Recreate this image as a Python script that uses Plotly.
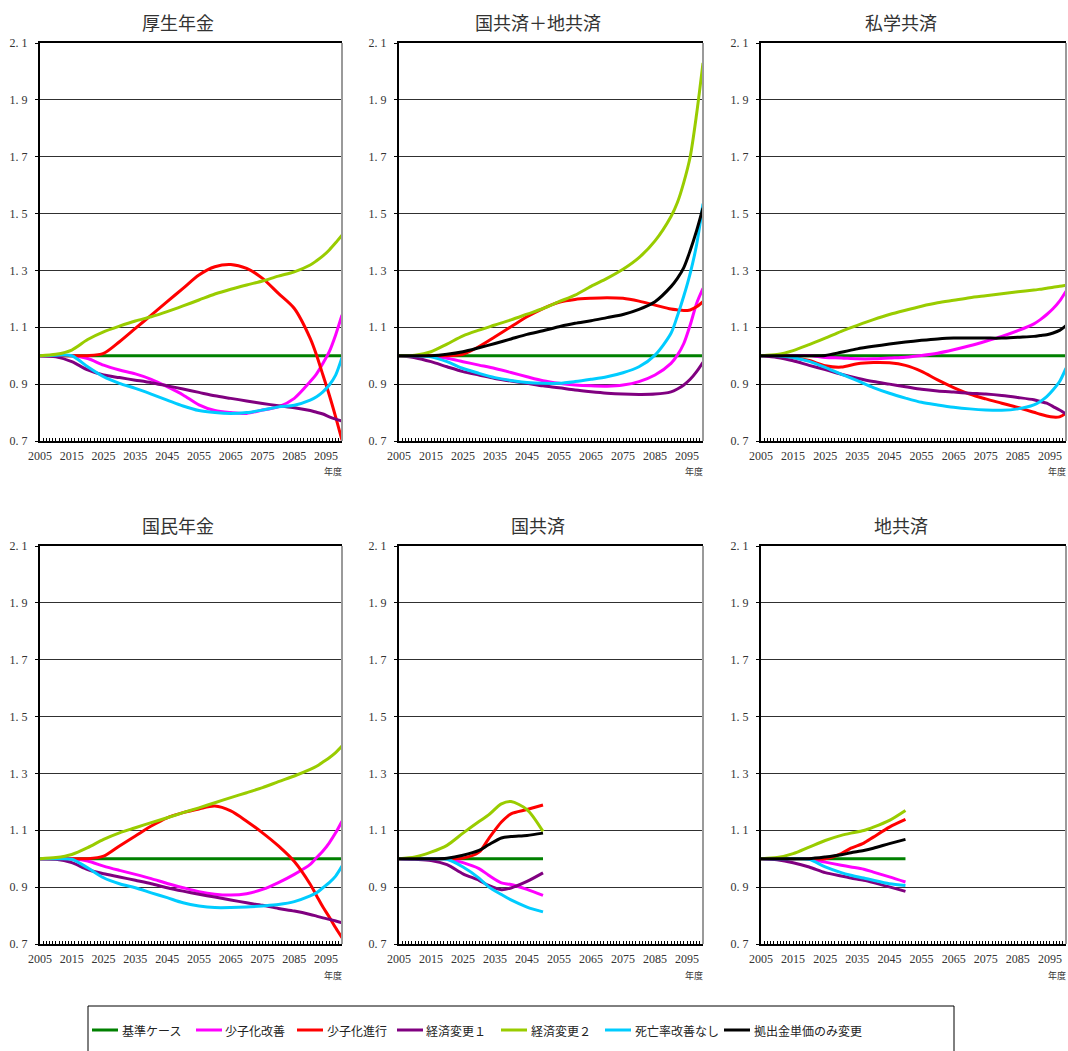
import plotly.graph_objects as go

W, H = 1068, 1051

# ---------------- data ----------------
YEARS_LONG = [2005, 2010, 2015, 2020, 2025, 2030, 2035, 2040, 2045, 2050, 2055, 2060,
              2065, 2070, 2075, 2080, 2085, 2090, 2092, 2094, 2096, 2098, 2100]
YEARS_SHORT = [2005, 2010, 2015, 2020, 2025, 2030, 2033, 2037, 2040, 2045, 2050]

SERIES_NAMES = ["基準ケース", "少子化改善", "少子化進行", "経済変更１",
                "経済変更２", "死亡率改善なし", "拠出金単価のみ変更"]
SERIES_COLORS = ["#008000", "#FF00FF", "#FF0000", "#800080",
                 "#99CC00", "#00CCFF", "#000000"]

PANEL_TITLES = ["厚生年金", "国共済＋地共済", "私学共済", "国民年金", "国共済", "地共済"]

X_TICKS = [2005, 2015, 2025, 2035, 2045, 2055, 2065, 2075, 2085, 2095]
Y_TICKS = [0.7, 0.9, 1.1, 1.3, 1.5, 1.7, 1.9, 2.1]
Y_TICK_TEXT = ["0. 7", "0. 9", "1. 1", "1. 3", "1. 5", "1. 7", "1. 9", "2. 1"]

# 厚生年金
kosei_kaizen = [1.0, 1.0, 1.0, 0.99, 0.967, 0.95, 0.936, 0.917, 0.891, 0.862, 0.827, 0.807,
                0.8, 0.797, 0.809, 0.82, 0.85, 0.909, 0.936, 0.973, 1.014, 1.073, 1.143]
kosei_shinko = [1.0, 1.0, 1.0, 1.0, 1.008, 1.049, 1.096, 1.143, 1.19, 1.237, 1.284, 1.313,
                1.321, 1.307, 1.272, 1.219, 1.166, 1.061, 1.002, 0.932, 0.862, 0.785, 0.703]
kosei_keizai1 = [1.0, 0.996, 0.979, 0.95, 0.932, 0.923, 0.914, 0.905, 0.894, 0.883, 0.871, 0.859,
                 0.85, 0.841, 0.832, 0.824, 0.817, 0.807, 0.801, 0.795, 0.785, 0.777, 0.77]
kosei_keizai2 = [1.0, 1.005, 1.02, 1.057, 1.084, 1.104, 1.122, 1.137, 1.155, 1.175, 1.196, 1.217,
                 1.234, 1.249, 1.263, 1.28, 1.295, 1.319, 1.334, 1.351, 1.372, 1.397, 1.424]
kosei_shibo = [1.0, 1.002, 1.0, 0.961, 0.926, 0.903, 0.885, 0.865, 0.844, 0.823, 0.807, 0.8,
               0.797, 0.8, 0.809, 0.82, 0.826, 0.844, 0.856, 0.873, 0.897, 0.932, 0.994]

# 国共済＋地共済
kokuchi_kaizen = [1.0, 1.0, 1.0, 0.991, 0.979, 0.967, 0.955, 0.941, 0.926, 0.912, 0.903, 0.897,
                  0.894, 0.893, 0.897, 0.909, 0.932, 0.973, 1.002, 1.043, 1.108, 1.184, 1.237]
kokuchi_shinko = [1.0, 1.0, 1.0, 1.0, 1.005, 1.032, 1.067, 1.102, 1.137, 1.166, 1.188, 1.198,
                  1.202, 1.204, 1.202, 1.192, 1.178, 1.164, 1.161, 1.159, 1.161, 1.172, 1.19]
kokuchi_keizai1 = [1.0, 0.993, 0.979, 0.961, 0.944, 0.932, 0.92, 0.911, 0.903, 0.894, 0.887, 0.879,
                   0.873, 0.868, 0.865, 0.864, 0.865, 0.873, 0.883, 0.897, 0.917, 0.944, 0.977]
kokuchi_keizai2 = [1.0, 1.002, 1.014, 1.041, 1.07, 1.09, 1.108, 1.126, 1.146, 1.166, 1.19, 1.213,
                   1.244, 1.272, 1.304, 1.345, 1.404, 1.49, 1.539, 1.61, 1.70, 1.85, 2.03]
kokuchi_shibo = [1.0, 1.0, 0.996, 0.979, 0.955, 0.938, 0.923, 0.913, 0.906, 0.903, 0.903, 0.909,
                 0.917, 0.926, 0.94, 0.961, 1.002, 1.079, 1.14, 1.21, 1.29, 1.39, 1.535]
kokuchi_kyoshutsu = [1.0, 1.0, 1.0, 1.005, 1.014, 1.028, 1.043, 1.059, 1.075, 1.088, 1.102, 1.114,
                     1.123, 1.134, 1.145, 1.163, 1.19, 1.243, 1.272, 1.31, 1.37, 1.44, 1.52]

# 私学共済
shigaku_kaizen = [1.0, 1.0, 1.0, 1.001, 0.994, 0.992, 0.989, 0.989, 0.992, 0.995, 1.001, 1.009,
                  1.021, 1.035, 1.051, 1.068, 1.088, 1.112, 1.127, 1.145, 1.166, 1.192, 1.227]
shigaku_shinko = [1.0, 0.999, 0.994, 0.983, 0.965, 0.96, 0.972, 0.976, 0.975, 0.966, 0.945, 0.915,
                  0.888, 0.865, 0.848, 0.833, 0.818, 0.801, 0.794, 0.788, 0.784, 0.785, 0.798]
shigaku_keizai1 = [1.0, 0.994, 0.982, 0.966, 0.951, 0.935, 0.921, 0.909, 0.9, 0.891, 0.882, 0.876,
                   0.872, 0.868, 0.865, 0.86, 0.853, 0.845, 0.839, 0.833, 0.821, 0.809, 0.795]
shigaku_keizai2 = [1.0, 1.004, 1.018, 1.039, 1.062, 1.086, 1.107, 1.127, 1.145, 1.16, 1.174, 1.186,
                   1.195, 1.204, 1.211, 1.218, 1.225, 1.231, 1.234, 1.237, 1.241, 1.244, 1.248]
shigaku_shibo = [1.0, 1.0, 0.994, 0.98, 0.959, 0.935, 0.912, 0.888, 0.868, 0.851, 0.836, 0.827,
                 0.819, 0.813, 0.809, 0.808, 0.813, 0.827, 0.839, 0.856, 0.88, 0.909, 0.956]
shigaku_kyoshutsu = [1.0, 1.0, 1.0, 1.0, 1.001, 1.012, 1.024, 1.033, 1.041, 1.048, 1.054, 1.059,
                     1.062, 1.062, 1.062, 1.062, 1.065, 1.068, 1.071, 1.074, 1.08, 1.089, 1.106]

# 国民年金
kokumin_kaizen = [1.0, 1.0, 1.0, 0.992, 0.974, 0.959, 0.945, 0.93, 0.913, 0.898, 0.884, 0.875,
                  0.872, 0.877, 0.892, 0.916, 0.945, 0.98, 1.004, 1.027, 1.056, 1.091, 1.132]
kokumin_shinko = [1.0, 1.0, 1.0, 1.0, 1.009, 1.045, 1.08, 1.115, 1.144, 1.162, 1.175, 1.185,
                  1.168, 1.132, 1.091, 1.045, 0.99, 0.91, 0.87, 0.83, 0.795, 0.757, 0.722]
kokumin_keizai1 = [1.0, 0.998, 0.986, 0.962, 0.947, 0.936, 0.924, 0.912, 0.898, 0.886, 0.875, 0.865,
                   0.855, 0.845, 0.836, 0.825, 0.816, 0.804, 0.798, 0.792, 0.787, 0.781, 0.775]
kokumin_keizai2 = [1.0, 1.004, 1.015, 1.039, 1.068, 1.091, 1.109, 1.127, 1.144, 1.162, 1.179, 1.197,
                   1.215, 1.232, 1.25, 1.271, 1.291, 1.314, 1.325, 1.34, 1.355, 1.373, 1.396]
kokumin_shibo = [1.0, 1.0, 0.998, 0.968, 0.933, 0.912, 0.898, 0.88, 0.863, 0.845, 0.834, 0.828,
                 0.828, 0.83, 0.834, 0.839, 0.849, 0.869, 0.88, 0.898, 0.916, 0.939, 0.974]

# 国共済
kokkyo_kaizen = [1.0, 1.0, 1.0, 1.0, 0.986, 0.965, 0.942, 0.915, 0.909, 0.892, 0.871]
kokkyo_shinko = [1.0, 1.0, 1.0, 1.0, 1.002, 1.023, 1.07, 1.129, 1.158, 1.173, 1.189]
kokkyo_keizai1 = [1.0, 0.998, 0.994, 0.979, 0.947, 0.924, 0.906, 0.891, 0.897, 0.92, 0.95]
kokkyo_keizai2 = [1.0, 1.006, 1.023, 1.047, 1.09, 1.131, 1.154, 1.193, 1.201, 1.173, 1.096]
kokkyo_shibo = [1.0, 1.0, 1.0, 0.998, 0.971, 0.932, 0.901, 0.874, 0.855, 0.83, 0.813]
kokkyo_kyoshutsu = [1.0, 1.0, 1.0, 1.002, 1.012, 1.029, 1.049, 1.073, 1.078, 1.082, 1.09]

# 地共済
chikyo_kaizen = [1.0, 1.0, 1.0, 1.0, 0.988, 0.977, 0.971, 0.963, 0.953, 0.936, 0.918]
chikyo_shinko = [1.0, 1.0, 1.0, 1.0, 1.0, 1.018, 1.037, 1.055, 1.076, 1.111, 1.138]
chikyo_keizai1 = [1.0, 0.996, 0.986, 0.971, 0.951, 0.939, 0.932, 0.924, 0.916, 0.901, 0.885]
chikyo_keizai2 = [1.0, 1.004, 1.018, 1.041, 1.064, 1.082, 1.09, 1.099, 1.111, 1.135, 1.17]
chikyo_shibo = [1.0, 1.0, 1.0, 0.998, 0.971, 0.951, 0.942, 0.932, 0.924, 0.912, 0.906]
chikyo_kyoshutsu = [1.0, 1.0, 1.0, 1.0, 1.006, 1.014, 1.021, 1.029, 1.037, 1.053, 1.068]

BASE = 1.0  # 基準ケース = 1

PANELS = [
    (YEARS_LONG, {"少子化改善": kosei_kaizen, "少子化進行": kosei_shinko, "経済変更１": kosei_keizai1,
                  "死亡率改善なし": kosei_shibo, "経済変更２": kosei_keizai2}),
    (YEARS_LONG, {"少子化改善": kokuchi_kaizen, "少子化進行": kokuchi_shinko, "経済変更１": kokuchi_keizai1,
                  "死亡率改善なし": kokuchi_shibo, "経済変更２": kokuchi_keizai2,
                  "拠出金単価のみ変更": kokuchi_kyoshutsu}),
    (YEARS_LONG, {"少子化改善": shigaku_kaizen, "少子化進行": shigaku_shinko, "経済変更１": shigaku_keizai1,
                  "死亡率改善なし": shigaku_shibo, "経済変更２": shigaku_keizai2,
                  "拠出金単価のみ変更": shigaku_kyoshutsu}),
    (YEARS_LONG, {"少子化改善": kokumin_kaizen, "少子化進行": kokumin_shinko, "経済変更１": kokumin_keizai1,
                  "死亡率改善なし": kokumin_shibo, "経済変更２": kokumin_keizai2}),
    (YEARS_SHORT, {"少子化改善": kokkyo_kaizen, "少子化進行": kokkyo_shinko, "経済変更１": kokkyo_keizai1,
                   "死亡率改善なし": kokkyo_shibo, "経済変更２": kokkyo_keizai2,
                   "拠出金単価のみ変更": kokkyo_kyoshutsu}),
    (YEARS_SHORT, {"少子化改善": chikyo_kaizen, "少子化進行": chikyo_shinko, "経済変更１": chikyo_keizai1,
                   "死亡率改善なし": chikyo_shibo, "経済変更２": chikyo_keizai2,
                   "拠出金単価のみ変更": chikyo_kyoshutsu}),
]

# stacking order of the lines inside each panel (bottom first)
DRAW_ORDER = ["基準ケース", "少子化改善", "少子化進行", "経済変更１",
              "死亡率改善なし", "経済変更２", "拠出金単価のみ変更"]

# ---------------- layout geometry (pixels) ----------------
COLS = [(40, 342), (399, 703), (761, 1066)]
ROWS = [(43, 441), (546, 944)]
TITLE_Y = [22, 525]
NENDO_Y = [472, 975]

# legend key: sample line start and text start for each series
LEGEND_Y = 1030
LEGEND_LINE_X = [92, 196, 297, 397, 501, 605, 724]
LEGEND_TEXT_X = [120, 223, 325, 424, 529, 633, 752]

SERIF = "Liberation Serif"
CJK = "Noto Sans CJK JP"


def px(xp):
    return xp / W


def py(yp):
    return 1 - yp / H


fig = go.Figure()
color_of = dict(zip(SERIES_NAMES, SERIES_COLORS))
annotations = []
shapes = []

for k, (years, series) in enumerate(PANELS):
    r, c = divmod(k, 3)
    x0, x1 = COLS[c]
    y0, y1 = ROWS[r]
    sfx = "" if k == 0 else str(k + 1)
    xa, ya = "x" + sfx, "y" + sfx

    all_series = {"基準ケース": [BASE] * len(years)}
    all_series.update(series)
    for name in DRAW_ORDER:
        if name not in all_series:
            continue
        fig.add_trace(go.Scatter(
            x=years, y=all_series[name], mode="lines", name=name,
            line=dict(color=color_of[name], width=3, shape="spline", smoothing=0.8),
            xaxis=xa, yaxis=ya, showlegend=False, hoverinfo="skip",
        ))

    common_font = dict(family=SERIF, size=12, color="#333333")
    fig.layout["xaxis" + sfx] = dict(
        domain=[px(x0), px(x1)], anchor=ya, range=[2005, 2100],
        tickvals=X_TICKS, ticktext=[str(v) for v in X_TICKS],
        ticks="inside", ticklen=3, tickcolor="black", tickwidth=1,
        minor=dict(dtick=1, tick0=2005, ticks="inside", ticklen=3,
                   tickcolor="black", tickwidth=1, showgrid=False),
        showline=True, linecolor="black", linewidth=2, mirror=True,
        showgrid=False, zeroline=False, tickfont=common_font,
        ticklabelstandoff=3, automargin=False, fixedrange=True,
    )
    fig.layout["yaxis" + sfx] = dict(
        domain=[py(y1), py(y0)], anchor=xa, range=[0.7, 2.1],
        tickvals=Y_TICKS, ticktext=Y_TICK_TEXT,
        ticks="outside", ticklen=3, tickcolor="black",
        showline=True, linecolor="black", linewidth=2,
        showgrid=True, gridcolor="#303030", gridwidth=1, zeroline=False,
        tickfont=common_font, ticklabelstandoff=5, automargin=False,
        fixedrange=True,
    )

    # right frame edge
    shapes.append(dict(type="line", xref="paper", yref="paper",
                       x0=px(x1), x1=px(x1), y0=py(y1), y1=py(y0),
                       line=dict(color="#9a9a9a", width=2)))

    annotations.append(dict(
        text=PANEL_TITLES[k], xref="paper", yref="paper",
        x=px((x0 + x1) / 2 - 13), y=py(TITLE_Y[r]),
        xanchor="center", yanchor="middle", showarrow=False,
        font=dict(family=CJK, size=18, color="#333333"),
    ))
    annotations.append(dict(
        text="年度", xref="paper", yref="paper",
        x=px(x1 + 2), y=py(NENDO_Y[r]),
        xanchor="right", yanchor="middle", showarrow=False,
        font=dict(family=CJK, size=9, color="#333333"),
    ))

# legend frame and keys
shapes.append(dict(type="rect", xref="paper", yref="paper",
                   x0=px(88), x1=px(954), y0=py(1062), y1=py(1006),
                   line=dict(color="black", width=1), fillcolor="rgba(0,0,0,0)"))
for name, color, lx, tx in zip(SERIES_NAMES, SERIES_COLORS, LEGEND_LINE_X, LEGEND_TEXT_X):
    shapes.append(dict(type="line", xref="paper", yref="paper",
                       x0=px(lx), x1=px(lx + 26), y0=py(LEGEND_Y), y1=py(LEGEND_Y),
                       line=dict(color=color, width=3)))
    annotations.append(dict(
        text=name, xref="paper", yref="paper", x=px(tx), y=py(LEGEND_Y),
        xanchor="left", yanchor="middle", showarrow=False,
        font=dict(family=CJK, size=12, color="#222222"),
    ))

fig.update_layout(
    width=W, height=H,
    margin=dict(l=0, r=0, t=0, b=0, autoexpand=False),
    paper_bgcolor="white", plot_bgcolor="white",
    showlegend=False,
    annotations=annotations,
    shapes=shapes,
)

fig.write_html("out.html")
